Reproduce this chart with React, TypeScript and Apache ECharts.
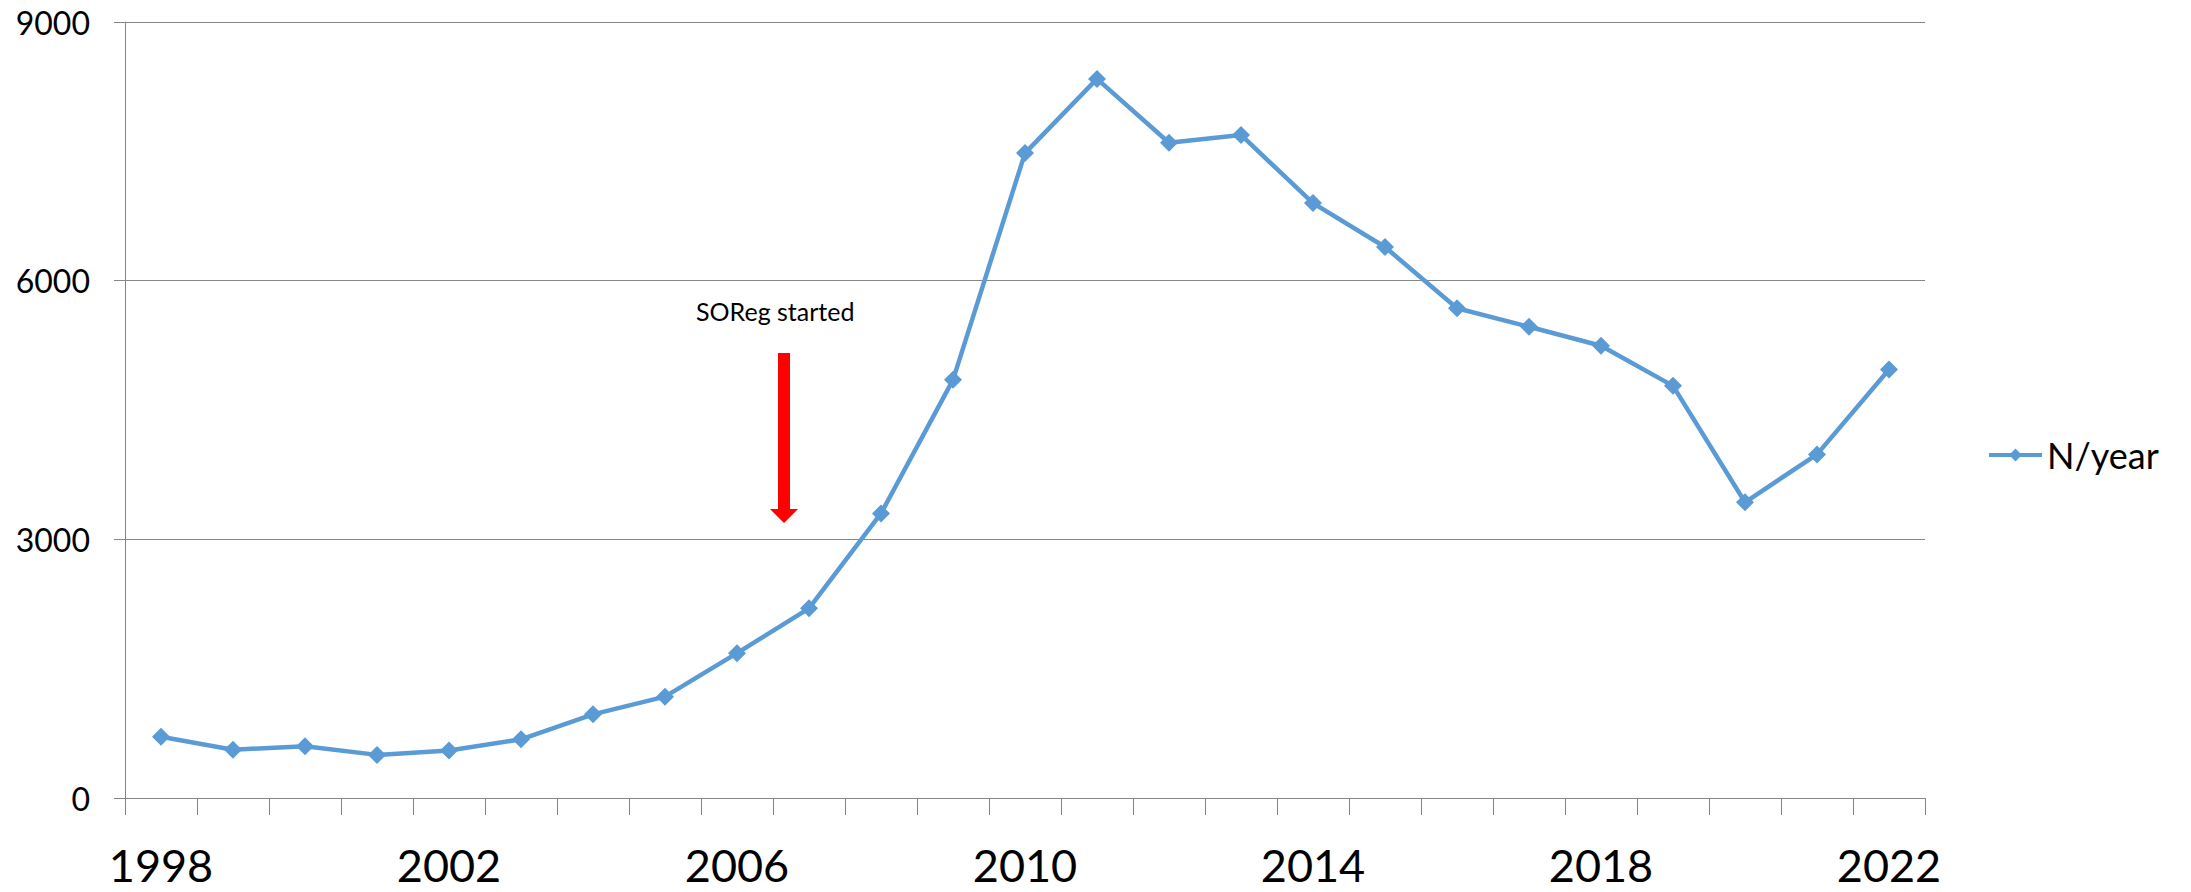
import React, { useEffect, useRef } from "react";
import * as echarts from "echarts";

const years: string[] = [
  "1998", "1999", "2000", "2001", "2002", "2003", "2004", "2005", "2006", "2007",
  "2008", "2009", "2010", "2011", "2012", "2013", "2014", "2015", "2016", "2017",
  "2018", "2019", "2020", "2021", "2022",
];
const nPerYear: number[] = [
  710, 560, 600, 500, 550, 680, 970, 1175, 1680, 2200,
  3300, 4850, 7480, 8340, 7600, 7690, 6900, 6390, 5680, 5465,
  5245, 4780, 3430, 3985, 4970,
];
const seriesName = "N/year";
const annotationText = "SOReg started";

export default function App() {
  const ref = useRef<HTMLDivElement>(null);
  useEffect(() => {
    if (!ref.current) return;
    const chart = echarts.init(ref.current, undefined, { renderer: "svg" });
    const font = "Lato, 'Open Sans', sans-serif";
    const gray = "#878787";
    const blue = "#5B9BD5";
    chart.setOption({
      animation: false,
      backgroundColor: "#ffffff",
      grid: { left: 125, right: 266, top: 22, bottom: 94, containLabel: false },
      legend: {
        show: true,
        orient: "vertical",
        left: 1982,
        top: 428,
        itemWidth: 53,
        itemHeight: 16,
        itemGap: 7,
        lineStyle: { width: 4, color: blue },
        itemStyle: { color: blue },
        textStyle: { fontFamily: font, fontSize: 36, color: "#000", lineHeight: 44 },
        data: [seriesName],
      },
      xAxis: {
        type: "category",
        data: years,
        boundaryGap: true,
        axisLine: { show: true, lineStyle: { color: gray, width: 1 } },
        axisTick: { show: true, interval: 0, length: 17, lineStyle: { color: gray, width: 1 } },
        axisLabel: {
          interval: 3,
          margin: 44,
          fontFamily: font,
          fontSize: 45,
          lineHeight: 45,
          color: "#000",
        },
        splitLine: { show: false },
      },
      yAxis: {
        type: "value",
        min: 0,
        max: 9000,
        interval: 3000,
        axisLine: { show: true, lineStyle: { color: gray, width: 1 } },
        axisTick: { show: true, length: 11, lineStyle: { color: gray, width: 1 } },
        axisLabel: {
          margin: 35,
          fontFamily: font,
          fontSize: 32,
          color: "#000",
          formatter: (v: number) => String(v),
        },
        splitLine: { show: true, lineStyle: { color: gray, width: 1 } },
      },
      series: [
        {
          name: seriesName,
          type: "line",
          data: nPerYear,
          symbol: "diamond",
          symbolSize: 18,
          showAllSymbol: true,
          lineStyle: { color: blue, width: 4.5 },
          itemStyle: { color: blue },
        },
      ],
      graphic: [
        {
          type: "text",
          left: 696,
          top: 298,
          style: { text: annotationText, fontFamily: font, fontSize: 25, fill: "#000" },
        },
        {
          type: "polygon",
          shape: {
            points: [
              [778, 353],
              [790, 353],
              [790, 509],
              [798, 509],
              [784, 523],
              [770, 509],
              [778, 509],
            ],
          },
          style: { fill: "#FF0000" },
        },
      ],
    });
    return () => chart.dispose();
  }, []);
  return (
    <div
      ref={ref}
      style={{ position: "absolute", left: 0, top: 0, width: 2191, height: 892, background: "#fff" }}
    />
  );
}
